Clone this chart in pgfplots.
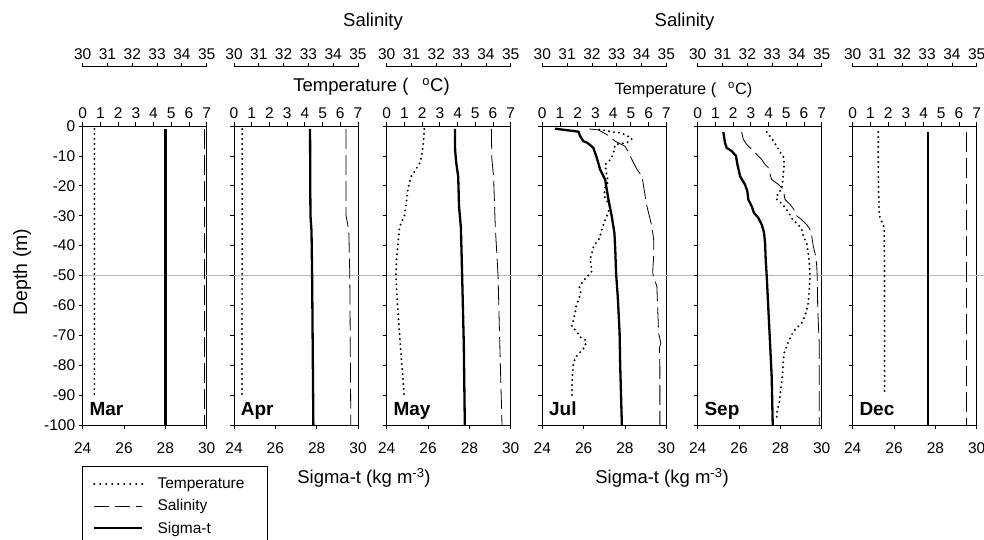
\documentclass[border=0pt]{standalone}
\usepackage{pgfplots}
\usepackage{pgfplotstable}
\pgfplotsset{compat=1.18}
\usepackage{fontspec}
\setmainfont{Liberation Sans}

% ---------------- data (x = value, y = depth in m) ----------------
\pgfplotstableread{
x y
28.00 -1
28.00 -100
}\sigMar
\pgfplotstableread{
x y
0.66 -1
0.66 -90
}\temMar
\pgfplotstableread{
x y
34.90 -1
34.90 -100
}\salMar

\pgfplotstableread{
x y
27.68 -1
27.69 -20
27.70 -30
27.75 -35
27.78 -50
27.81 -75
27.84 -100
}\sigApr
\pgfplotstableread{
x y
0.47 -1
0.46 -50
0.45 -90
}\temApr
\pgfplotstableread{
x y
34.52 -1
34.52 -30
34.63 -35
34.67 -50
34.69 -75
34.71 -100
}\salApr

\pgfplotstableread{
x y
27.30 -1
27.31 -8
27.36 -12
27.46 -17
27.50 -27
27.59 -34
27.65 -50
27.73 -73
27.78 -100
}\sigMay
\pgfplotstableread{
x y
2.12 -1
2.08 -5
2.00 -9
1.90 -12
1.65 -14.5
1.37 -17
1.20 -21
1.12 -25
1.00 -30
0.85 -32
0.72 -34
0.64 -39
0.56 -44
0.52 -50
0.58 -57
0.67 -65
0.79 -75
0.90 -83
0.98 -90
}\temMay
\pgfplotstableread{
x y
34.22 -1
34.24 -11
34.31 -17
34.38 -34
34.49 -50
34.56 -73
34.65 -100
}\salMay

\pgfplotstableread{
x y
24.62 -0.9
25.75 -1.9
25.83 -3.4
25.99 -5.1
26.18 -5.6
26.47 -7.3
26.64 -10.7
26.80 -14.6
27.04 -17.9
27.12 -21.3
27.20 -24.6
27.36 -30.2
27.49 -35.8
27.53 -41.4
27.57 -49.2
27.66 -58.1
27.74 -69.3
27.77 -80.4
27.85 -100
}\sigJul
\pgfplotstableread{
x y
3.21 -1.2
3.60 -1.5
3.93 -2.0
4.40 -2.3
4.72 -3.0
5.06 -4.3
4.83 -5.4
4.49 -5.9
4.11 -6.2
4.02 -9.0
3.89 -11.0
3.55 -12.9
3.64 -16.8
3.73 -18.5
3.51 -21.0
3.51 -23.5
3.79 -26.6
3.73 -29.1
3.55 -31.3
3.42 -33.6
3.23 -37.5
2.89 -40.3
2.80 -42.5
2.70 -44.5
2.80 -48.6
2.38 -51.4
2.09 -53.7
2.17 -55.9
1.91 -60.4
1.85 -62.6
1.66 -67.1
1.95 -68.7
2.13 -70.6
2.47 -71.7
2.42 -73.8
2.13 -75.7
1.85 -77.5
1.75 -79.9
1.72 -82.1
1.68 -86.4
1.68 -90.3
}\temJul
\pgfplotstableread{
x y
31.90 -1.0
32.26 -1.3
32.67 -3.2
32.94 -5.1
33.34 -6.8
33.48 -9.0
33.82 -14.6
34.02 -16.8
34.15 -23.5
34.22 -26.9
34.42 -33.6
34.49 -38.0
34.49 -43.6
34.45 -49.0
34.49 -50.5
34.62 -53.7
34.65 -60.4
34.69 -69.3
34.78 -72.6
34.72 -74.3
34.74 -80.4
34.74 -100
}\salJul

\pgfplotstableread{
x y
25.24 -2.0
25.32 -5.6
25.40 -7.3
25.65 -8.4
25.85 -10.0
25.92 -12.8
26.05 -16.8
26.29 -19.6
26.40 -21.8
26.45 -24.6
26.61 -26.8
26.72 -29.0
26.93 -30.7
27.10 -33.0
27.21 -35.7
27.26 -39.1
27.29 -44.7
27.34 -50.3
27.42 -61.4
27.50 -72.6
27.58 -83.8
27.63 -100
}\sigSep
\pgfplotstableread{
x y
3.90 -2.0
4.18 -4.2
4.46 -6.7
4.65 -8.7
4.87 -10.6
4.87 -13.4
4.83 -16.2
4.80 -18.4
4.74 -21.2
4.55 -22.3
4.42 -24.3
4.74 -25.9
5.02 -27.9
5.36 -31.3
5.68 -33.0
5.87 -34.6
5.96 -36.9
6.15 -39.1
6.24 -42.5
6.30 -45.9
6.34 -50.3
6.30 -54.7
6.24 -59.2
6.11 -62.6
5.87 -65.9
5.40 -68.7
5.17 -71.5
4.87 -76.0
4.83 -79.3
4.78 -83.8
4.68 -88.3
4.61 -92.2
4.46 -96.1
4.46 -98.9
}\temSep
\pgfplotstableread{
x y
31.77 -2.0
31.84 -4.5
31.97 -6.1
32.11 -7.3
32.44 -10.0
32.58 -11.2
32.71 -12.8
32.89 -14.3
32.92 -16.2
32.98 -17.9
33.25 -19.5
33.45 -21.2
33.52 -24.6
33.72 -26.2
33.88 -27.9
33.92 -29.6
34.19 -31.3
34.40 -33.0
34.53 -34.6
34.60 -36.9
34.66 -40.2
34.76 -43.6
34.80 -46.9
34.82 -50.3
34.84 -61.4
34.90 -72.6
34.90 -89.4
34.90 -100
}\salSep

\pgfplotstableread{
x y
27.64 -2
27.64 -100
}\sigDec
\pgfplotstableread{
x y
1.44 -2
1.45 -20
1.50 -30
1.78 -34
1.80 -60
1.80 -90
}\temDec
\pgfplotstableread{
x y
34.57 -2
34.57 -100
}\salDec

% ---------------- styles ----------------
\newcommand{\tickfont}{\fontsize{15.5}{17}\selectfont}
\newcommand{\labfont}{\fontsize{18.5}{20}\selectfont}
\pgfplotsset{
  panel/.style={scale only axis, width=124pt, height=299pt, ymin=-100, ymax=0,
    tick align=outside, major tick length=4pt,
    tick style={black, line width=0.8pt},
    axis line style={black, line width=0.9pt},
    tick label style={font=\tickfont},
    /pgf/number format/assume math mode=true},
  tempsty/.style={black, line width=2.2pt, dash pattern=on 0pt off 5pt, line cap=round},
  salsty/.style={black, line width=0.8pt, dash pattern=on 20pt off 6pt},
  sigsty/.style={black, line width=2.3pt},
  noylab/.style={yticklabels={,,,,,,,,,,,}},
}

% #1 left edge (pt), #2 month, #3 sigma, #4 temperature, #5 salinity, #6 extra options
\newcommand{\Panel}[6]{%
  \begin{axis}[panel, at={(#1pt,-425pt)}, anchor=south west,
      xmin=24, xmax=30, xtick={24,26,28,30},
      ytick={-100,-90,...,0}, xtick pos=left, ytick pos=left,
      xticklabel style={yshift=-10pt},
      clip=false, #6]
    \draw[gray!55, line width=0.8pt] (axis cs:24,-50) -- (axis cs:31.6,-50);
    \addplot[sigsty] table {#3};
    \node[anchor=base west, inner sep=0pt, font=\bfseries\fontsize{19}{20}\selectfont]
      at (axis cs:24.32,-96.8) {#2};
  \end{axis}
  \begin{axis}[panel, at={(#1pt,-425pt)}, anchor=south west,
      xmin=0, xmax=7, xtick={0,1,...,7},
      axis x line*=top, axis y line=none]
    \addplot[tempsty] table {#4};
  \end{axis}
  \begin{axis}[panel, at={(#1pt,-425pt)}, anchor=south west,
      xmin=30, xmax=35, hide axis]
    \addplot[salsty] table {#5};
  \end{axis}
  \begin{axis}[panel, height=1pt, at={(#1pt,-67.7pt)}, anchor=south west,
      xmin=30, xmax=35, ymin=0, ymax=1, xtick={30,31,...,35},
      axis x line*=top, axis y line=none]
  \end{axis}
}

\begin{document}
\begin{tikzpicture}
\Panel{82.7}{Mar}{\sigMar}{\temMar}{\salMar}{}
\Panel{234}{Apr}{\sigApr}{\temApr}{\salApr}{noylab}
\Panel{386.7}{May}{\sigMay}{\temMay}{\salMay}{noylab}
\Panel{542.3}{Jul}{\sigJul}{\temJul}{\salJul}{noylab}
\Panel{697.7}{Sep}{\sigSep}{\temSep}{\salSep}{noylab}
\Panel{852.7}{Dec}{\sigDec}{\temDec}{\salDec}{noylab}

% legend in a framed axis
\begin{axis}[scale only axis, width=184.3pt, height=100pt,
    at={(82.7pt,-466.7pt)}, anchor=north west,
    xmin=0, xmax=1, ymin=0, ymax=1, xtick=\empty, ytick=\empty,
    axis line style={black, line width=0.8pt},
    legend cell align=left,
    legend image code/.code={\draw[#1] (0pt,0pt) -- (48pt,0pt);},
    legend style={at={(0,1)}, anchor=north west, draw=none, fill=none,
      font=\tickfont, inner xsep=10pt, inner ysep=9pt, row sep=5.5pt,
      nodes={inner sep=2pt},
      /tikz/every odd column/.append style={column sep=12pt}}]
  \addlegendimage{tempsty, dash pattern=on 0pt off 6pt}
  \addlegendentry{Temperature}
  \addlegendimage{salsty, dash pattern=on 15pt off 6pt}
  \addlegendentry{Salinity}
  \addlegendimage{sigsty, line width=2.6pt}
  \addlegendentry{Sigma-t}
\end{axis}

\node[font=\labfont] at (373pt,-22pt) {Salinity};
\node[font=\labfont] at (684.5pt,-22pt) {Salinity};
\node[font=\labfont] at (371.5pt,-87pt) {Temperature (\hspace{14pt}\textsuperscript{o}C)};
\node[font=\fontsize{16.3}{18}\selectfont] at (683.5pt,-90pt) {Temperature (\hspace{12pt}\textsuperscript{o}C)};
\node[font=\labfont] at (364pt,-478pt) {Sigma-t (kg m\textsuperscript{-3})};
\node[font=\labfont] at (662pt,-478pt) {Sigma-t (kg m\textsuperscript{-3})};
\node[font=\fontsize{19.5}{21}\selectfont, rotate=90] at (22pt,-272pt) {Depth (m)};

\pgfresetboundingbox
\useasboundingbox (0pt,0pt) rectangle (984pt,-540pt);
\end{tikzpicture}
\end{document}
